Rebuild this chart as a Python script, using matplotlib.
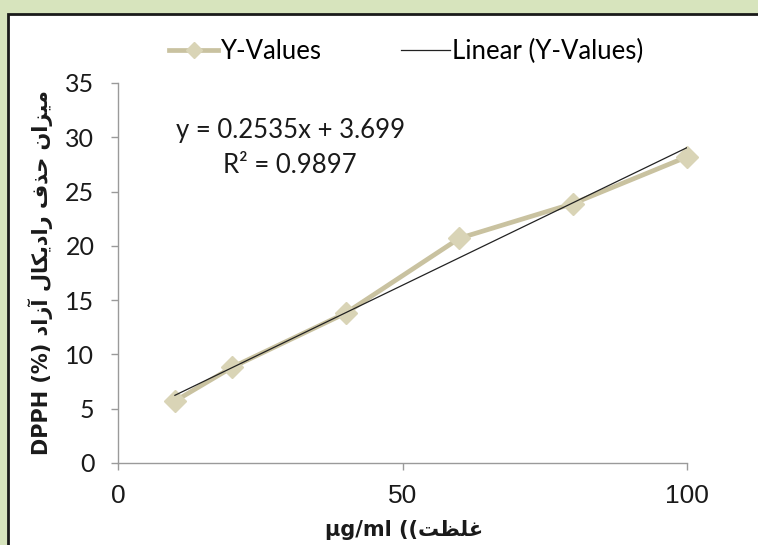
"""
DPPH radical scavenging vs. concentration, with linear trendline.
Saves out.png (758x545 px).
"""
import matplotlib
matplotlib.use("Agg")
import matplotlib.pyplot as plt
from matplotlib.patches import Rectangle
from matplotlib.lines import Line2D
import numpy as np

# ── Data ────────────────────────────────────────────────────────────────────
conc = [10, 20, 40, 60, 80, 100]            # µg/ml
scavenging = [5.7, 8.8, 13.8, 20.7, 23.9, 28.2]   # DPPH (%)

SLOPE = 0.2535
INTERCEPT = 3.699
R2 = 0.9897

x_ticks = [0, 50, 100]
y_ticks = [0, 5, 10, 15, 20, 25, 30, 35]

# Persian labels, written as presentation forms in visual order
# (matplotlib does no Arabic shaping / bidi)
W_MIZAN = "\uFEE5\uFE8D\uFEB0\uFEF4\uFEE3"            # میزان
W_HAZF = "\uFED1\uFEAC\uFEA3"                         # حذف
W_RADICAL = "\uFEDD\uFE8E\uFEDC\uFEF3\uFEA9\uFE8D\uFEAD"  # رادیکال
W_AZAD = "\uFEA9\uFE8D\uFEAF\uFE81"                   # آزاد
W_GHELZAT = "\uFE96\uFEC8\uFEE0\uFECF"                # غلظت

y_label = f"DPPH (%) {W_AZAD} {W_RADICAL} {W_HAZF} {W_MIZAN}"
x_label = f"µg/ml (({W_GHELZAT}"

# ── Style ───────────────────────────────────────────────────────────────────
GREEN = "#D7E4BD"
TAN = "#C9C2A0"
TAN_MK = "#D9D4B6"
AXIS = "#9A9A9A"
HUMANIST = ["Lato", "DejaVu Sans"]

plt.rcParams.update({
    "font.family": ["Liberation Sans", "DejaVu Sans"],
})

fig = plt.figure(figsize=(7.58, 5.45), dpi=100, facecolor=GREEN)

# white chart panel with dark frame
fig.patches.append(Rectangle((8 / 758, -0.01), 1.0, (545 - 14) / 545 + 0.01,
                             transform=fig.transFigure, facecolor="white",
                             edgecolor="#1a1a1a", linewidth=2.0, zorder=-5))

ax = fig.add_axes([118 / 758, (545 - 463) / 545,
                   (687 - 118) / 758, (463 - 83) / 545])
ax.set_facecolor("none")
ax.set_zorder(2)

ax.plot(conc, scavenging, color=TAN, linewidth=3.4, marker="D",
        markersize=11, markerfacecolor=TAN_MK, markeredgecolor=TAN_MK,
        zorder=2, clip_on=False)

xt = np.array([conc[0], conc[-1]])
ax.plot(xt, SLOPE * xt + INTERCEPT, color="#222222", linewidth=0.9, zorder=3)

ax.set_xlim(0, 100)
ax.set_ylim(0, 35)
ax.set_xticks(x_ticks)
ax.set_yticks(y_ticks)
for s in ("top", "right"):
    ax.spines[s].set_visible(False)
for s in ("left", "bottom"):
    ax.spines[s].set_color(AXIS)
    ax.spines[s].set_linewidth(1.0)
ax.tick_params(axis="both", direction="out", length=5, width=1.0,
               color=AXIS, labelcolor="#1a1a1a")
ax.tick_params(axis="x", labelsize=19, pad=10)
ax.tick_params(axis="y", labelsize=18, pad=12)
for lab in ax.get_yticklabels():
    lab.set_family(HUMANIST)

# trendline equation
ax.text(0.304, 0.875, f"y = {SLOPE}x + {INTERCEPT}",
        transform=ax.transAxes, ha="center", va="center",
        fontsize=18.5, family=HUMANIST, color="#1a1a1a")
ax.text(0.302, 0.782, f"R² = {R2}",
        transform=ax.transAxes, ha="center", va="center",
        fontsize=18.5, family=HUMANIST, color="#1a1a1a")

# legend
handles = [
    Line2D([], [], color=TAN, linewidth=3.4, marker="D", markersize=8,
           markerfacecolor=TAN_MK, markeredgecolor=TAN_MK),
    Line2D([], [], color="#222222", linewidth=0.9),
]
fig.legend(handles, ["Y-Values", "Linear (Y-Values)"],
           loc="center", bbox_to_anchor=(0.536, 0.905), ncol=2,
           frameon=False, handlelength=1.9,
           handletextpad=0.08, columnspacing=3.1,
           prop={"family": HUMANIST, "size": 18.5})

# axis titles
fig.text(0.053, 0.50, y_label, rotation=90, ha="center", va="center",
         fontsize=15, fontweight="bold", color="#1a1a1a",
         family=["DejaVu Sans"])
fig.text(0.533, 0.028, x_label, ha="center", va="center",
         fontsize=15, fontweight="bold", color="#1a1a1a",
         family=["DejaVu Sans"])

fig.savefig("out.png", dpi=100, facecolor=GREEN)
